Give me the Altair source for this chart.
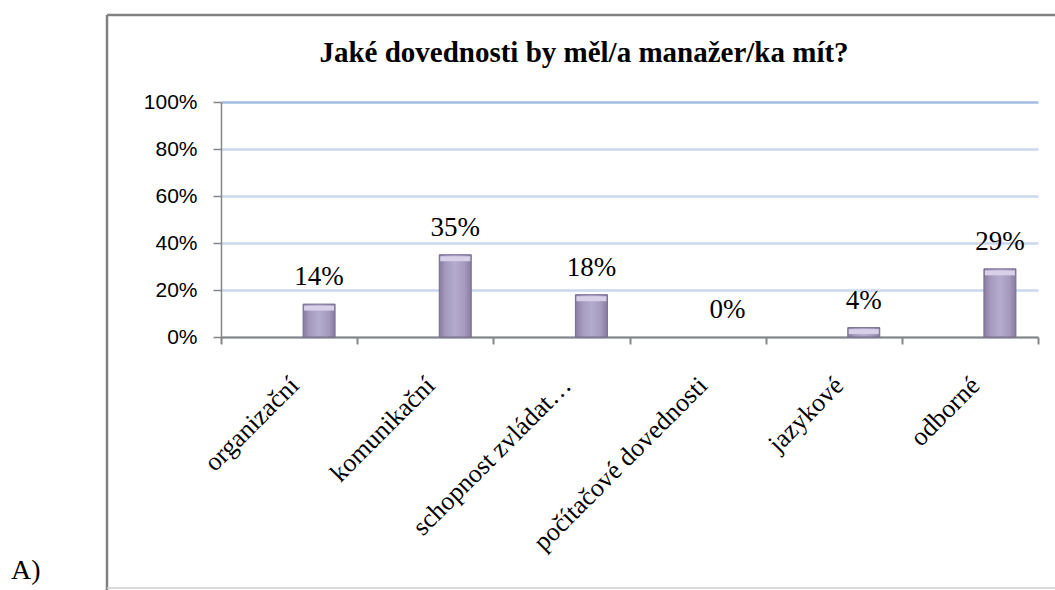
import altair as alt
import pandas as pd

TITLE = "Jaké dovednosti by měl/a manažer/ka mít?"
CATEGORIES = ["organizační", "komunikační", "schopnost zvládat…",
              "počítačové dovednosti", "jazykové", "odborné"]
VALUES = [14, 35, 18, 0, 4, 29]
Y_TICKS = [0, 20, 40, 60, 80, 100]
SIDE_LABEL = "A)"

df = pd.DataFrame({"cat": CATEGORIES, "val": VALUES})
df["lbl"] = [f"{v}%" for v in VALUES]

W, H = 817, 235
PAD_L, PAD_T = 221, 102

xenc = alt.X("cat:N", sort=CATEGORIES, title=None,
             scale=alt.Scale(paddingInner=0, paddingOuter=0),
             axis=alt.Axis(labelAngle=-45, labelAlign="right", labelBaseline="middle",
                           labelFont="Liberation Serif", labelFontSize=26, labelColor="black",
                           labelLimit=0, labelPadding=37, labelOffset=5,
                           tickBand="extent", tickSize=7, tickColor="#868686", tickWidth=2,
                           domainColor="#868686", domainWidth=2, grid=False))
yenc = alt.Y("val:Q", title=None, scale=alt.Scale(domain=[0, 100], nice=False),
             axis=alt.Axis(values=Y_TICKS, labelExpr="datum.value + '%'",
                           labelFont="Liberation Sans", labelFontSize=21, labelColor="black",
                           tickSize=8, tickColor="#868686", tickWidth=1.5, labelPadding=16,
                           domainColor="#868686", domainWidth=1.5,
                           grid=True, gridWidth=2.5, gridOpacity=1,
                           gridColor=alt.condition("datum.value == 100",
                                                   alt.value("#a3bde2"), alt.value("#c9d8ee"))))

grad = alt.Gradient(gradient="linear", x1=0, x2=1, y1=0, y2=0,
                    stops=[alt.GradientStop(color="#877c9f", offset=0),
                           alt.GradientStop(color="#a59abe", offset=0.2),
                           alt.GradientStop(color="#b5abcd", offset=0.5),
                           alt.GradientStop(color="#a59abe", offset=0.8),
                           alt.GradientStop(color="#877c9f", offset=1)])

bars = alt.Chart(df).mark_bar(size=32, xOffset=30, color=grad, stroke="#776d90",
                              strokeWidth=1).encode(
    x=xenc, y=yenc,
    opacity=alt.condition("datum.val > 0", alt.value(1), alt.value(0)))

caps = alt.Chart(df).mark_tick(size=30, thickness=5, xOffset=30, yOffset=4,
                               color="#d8cfe8").encode(
    x=alt.X("cat:N", sort=CATEGORIES), y="val:Q",
    opacity=alt.condition("datum.val > 0", alt.value(1), alt.value(0)))

labels = alt.Chart(df).mark_text(xOffset=30, dy=-19, baseline="alphabetic",
                                 font="Liberation Serif", fontSize=27, color="black").encode(
    x=alt.X("cat:N", sort=CATEGORIES), y="val:Q", text="lbl:N")

tdf = pd.DataFrame({"t": [TITLE]})
title = alt.Chart(tdf).mark_text(font="Liberation Serif", fontSize=29, fontWeight="bold",
                                 color="black", align="center", baseline="alphabetic").encode(
    text="t:N", x=alt.value(584 - PAD_L), y=alt.value(62 - PAD_T))

sdf = pd.DataFrame({"t": [SIDE_LABEL]})
side = alt.Chart(sdf).mark_text(font="Liberation Serif", fontSize=28, color="black",
                                align="left", baseline="alphabetic").encode(
    text="t:N", x=alt.value(11 - PAD_L), y=alt.value(579 - PAD_T))

left_b = alt.Chart(tdf).mark_rule(color="#808080", strokeWidth=2.5).encode(
    x=alt.value(107 - PAD_L), y=alt.value(15 - PAD_T), y2=alt.value(600 - PAD_T))
top_b = alt.Chart(tdf).mark_rule(color="#808080", strokeWidth=2.5).encode(
    x=alt.value(107 - PAD_L), x2=alt.value(1100 - PAD_L), y=alt.value(15 - PAD_T))
bot_b = alt.Chart(tdf).mark_rule(color="#cfcfcf", strokeWidth=1.5).encode(
    x=alt.value(107 - PAD_L), x2=alt.value(1100 - PAD_L), y=alt.value(588 - PAD_T))

chart = alt.layer(left_b, top_b, bot_b, bars, caps, labels, title, side).properties(
    width=W, height=H,
    autosize=alt.AutoSizeParams(type="none"),
    padding={"left": PAD_L, "top": PAD_T, "right": 1055 - PAD_L - W, "bottom": 590 - PAD_T - H},
    background="white",
).configure_view(stroke=None)

chart.save("out.html", embed_options={"renderer": "svg", "actions": False})
